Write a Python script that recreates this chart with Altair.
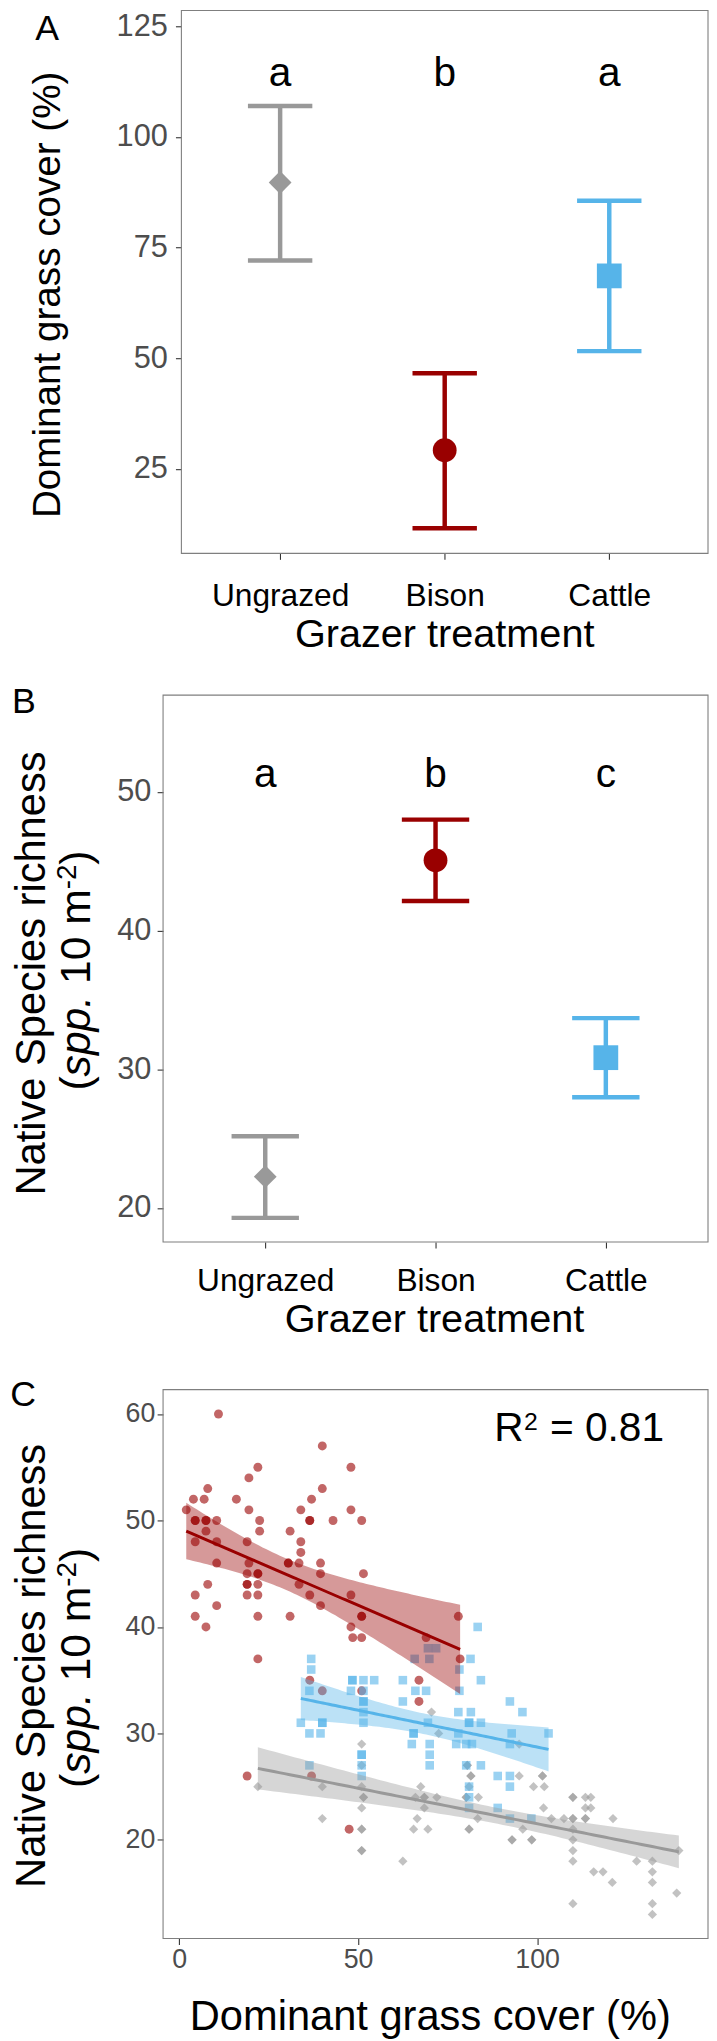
import altair as alt
import numpy as np
import pandas as pd

FONT = "Liberation Sans"

# ---------------- data ----------------
groups = ["Ungrazed", "Bison", "Cattle"]
group_colors = ["#999999", "#990000", "#56B4E9"]
group_shapes = ["diamond", "circle", "square"]

cover_mean = [89.7, 29.2, 68.6]
cover_lo = [72.1, 11.6, 51.6]
cover_hi = [107.0, 46.6, 85.6]
cover_letters = ["a", "b", "a"]

rich_mean = [22.26, 45.07, 30.84]
rich_lo = [19.29, 42.14, 27.98]
rich_hi = [25.17, 48.0, 33.69]
rich_letters = ["a", "b", "c"]

bison_x = [11, 40, 22, 48, 19.5, 8, 40, 4, 7, 16, 37, 2, 19.5, 34, 48,
           4.5, 4.5, 7.5, 7.5, 10.5, 22.5, 36.5, 36.5, 43, 51,
           7.5, 22.5, 31,
           4.5, 10.5, 19, 34,
           34,
           10.5, 19.5, 30.5, 30.5, 33.5, 39.5,
           19, 22, 22, 39.5, 51.5,
           8, 19, 19, 22, 33.5,
           4.5, 19, 22, 36.5, 48,
           10.5, 39.5,
           4.5, 22, 31, 51, 51, 78,
           7.5, 48,
           48.5, 51, 69,
           22, 78.5,
           36.5, 67, 40, 51, 67,
           19, 37, 47.5]
bison_y = [60, 57, 55, 55, 54, 53, 53, 52, 52, 52, 52, 51, 51, 51, 51,
           50, 50, 50, 50, 50, 50, 50, 50, 50, 50,
           49, 49, 49,
           48, 48, 48, 48,
           47,
           46, 46, 46, 46, 46, 46,
           45, 45, 45, 45, 45,
           44, 44, 44, 44, 44,
           43, 43, 43, 43, 43,
           42, 42,
           41, 41, 41, 41, 41, 41,
           40, 40,
           39, 39, 39,
           37, 37,
           35, 35, 34, 34, 33,
           26, 26, 21]

cattle_x = [36.9, 36.9, 36.4, 34, 40, 40, 36.4, 39.5, 36.4,
            48.4, 48.4, 51.5, 54.5, 48, 51.5, 51.5, 51.5, 51.5, 51.5,
            51, 51, 51, 51,
            62.5, 66, 69, 62.5, 65.5, 65.5, 65, 70, 70, 70, 69.5,
            65.8, 69.9, 69.5, 71.8,
            78.3, 84.3, 78.3, 92.4, 95.9, 78, 81.5, 81, 81, 84.3,
            78, 92.9, 103.2, 77.4, 80.2, 81.8, 92.4,
            84.3, 80.2, 89, 92.4, 92.4, 81, 81, 89, 81, 92.4, 98.4,
            83.4, 81.4]
cattle_y = [37, 36, 34, 31, 31, 31, 30, 30, 27,
            35, 35, 35, 35, 34, 34, 33, 33, 32, 31,
            28, 28, 27, 26,
            35, 34, 34, 33, 30, 30, 29, 29, 28, 27, 31,
            37, 37, 38, 38,
            36, 35, 34, 33, 32, 32, 32, 31, 31, 31,
            30, 30, 30, 29, 29, 29, 29,
            27, 27, 26, 26, 25, 25, 24, 23, 23, 22, 22,
            40, 37]

ungrazed_x = [22, 40, 40,
              51, 51, 51, 51.5, 51.5, 51, 51, 51, 51, 51,
              62.5, 70.5, 72.5,
              67.5, 66, 68.5, 68.5, 68.5, 66.5, 65.5, 69.5, 72,
              95, 80.5, 80.5, 81.5, 81.5, 81, 95, 101.5, 101.5, 99, 102,
              80.2, 80.2, 83.6, 110, 110, 113.5, 115,
              101.8, 113.5, 115,
              83.4, 104, 107.5, 110, 110, 113.5, 113.5, 121.2,
              81, 81, 96, 110,
              93, 93, 98.5, 98.5, 110,
              110, 139.6,
              110, 127.8, 132.2,
              115.8, 118.4, 132.2,
              121, 132.2,
              139,
              110, 132.2,
              132.2]
ungrazed_y = [25, 25, 22,
              29, 27, 25, 24, 24, 23, 21, 21, 19, 19,
              18, 32, 30,
              25, 24, 24, 24, 23, 22, 21, 21, 24,
              29, 27, 27, 26, 26, 25, 26, 26, 26, 25, 25,
              24, 24, 24, 24, 24, 24, 24,
              23, 23, 23,
              22, 22, 22, 22, 22, 22, 22, 22,
              21, 21, 21, 21,
              20, 20, 20, 20, 20,
              19, 19,
              18, 18, 18,
              17, 17, 17,
              16, 16,
              15,
              14, 14,
              13]

r2_parts = ["R", "2", "= 0.81"]

# ---------------- layout constants (px) ----------------
W = 550
HA, HB, HC = 548, 552, 554
EDGE = -180

one = pd.DataFrame({"k": [0]})

AX = dict(tickSize=6, tickColor="#333333", tickWidth=1.1, domain=False, grid=False, title=None)


def txt(text, x, y, size, angle=0, align="center", style="normal", dx=0, dy=0):
    return alt.Chart(one).mark_text(
        text=text, font=FONT, fontSize=size, angle=angle, align=align,
        baseline="alphabetic", fontStyle=style, color="black", dx=dx, dy=dy
    ).encode(x=alt.value(x), y=alt.value(y))


def frame(x0, h):
    return alt.Chart(one).mark_rect(fillOpacity=0, stroke="#7F7F7F", strokeWidth=1.1).encode(
        x=alt.value(x0), x2=alt.value(W), y=alt.value(0), y2=alt.value(h))


def anchor(top):
    # invisible 1px box fixing the panel's left/top extent for the layout
    return alt.Chart(one).mark_rect(opacity=0).encode(
        x=alt.value(EDGE), x2=alt.value(EDGE + 1), y=alt.value(-top), y2=alt.value(-top + 1))


color_enc = alt.Color("g:N", scale=alt.Scale(domain=groups, range=group_colors), legend=None)
shape_enc = alt.Shape("g:N", scale=alt.Scale(domain=groups, range=group_shapes), legend=None)


def richness_title(cy1, cy2):
    layers = [txt("Native Species richness", -119, cy1, 42, angle=270)]
    f, fs = 43, 28
    cw = {"(": .333, ")": .333, "s": .5, "p": .556, ".": .278, " ": .278,
          "1": .556, "0": .556, "m": .833, "-": .333, "2": .556}
    pieces = [("(", "normal", f, 0, 0), ("spp.", "italic", f, 0, 0), ("10 m", "normal", f, 0, .278),
              ("-2", "normal", fs, -14, 0), (")", "normal", f, 0, 0)]
    widths = [(sum(cw[c] for c in p) * size + gap * f) for p, _, size, _, gap in pieces]
    total = sum(widths)
    y0 = cy2 + total / 2
    cum = 0.0
    for (p, style, size, dy, gap), w in zip(pieces, widths):
        layers.append(txt(p, -74, y0, size, angle=270, align="left", style=style,
                          dx=cum + gap * f, dy=dy))
        cum += w
    return layers


def summary_panel(means, los, his, letters, x0, H, ydomain, yvalues, ypad, yoff,
                  cap, sig_y, xpad):
    df = pd.DataFrame({"g": groups, "m": means, "lo": los, "hi": his, "sig": letters})
    xenc = alt.X("g:N", scale=alt.Scale(type="point", domain=groups, range=[x0, W], padding=0.6),
                 axis=alt.Axis(labelAngle=0, labelFontSize=32, labelColor="black",
                               labelPadding=xpad, **AX))
    ysc = alt.Scale(domain=ydomain, nice=False, zero=False)
    yax = alt.Axis(values=yvalues, labelFontSize=31, labelColor="#4D4D4D",
                   labelPadding=ypad, offset=yoff, **AX)
    base = alt.Chart(df)
    stem = base.mark_rule(strokeWidth=4.5).encode(
        x=xenc, y=alt.Y("lo:Q", scale=ysc, axis=yax), y2="hi:Q", color=color_enc)
    cap_hi = base.mark_tick(orient="horizontal", size=cap, thickness=4.5, opacity=1).encode(
        x=xenc, y=alt.Y("hi:Q", scale=ysc, axis=yax), color=color_enc)
    cap_lo = base.mark_tick(orient="horizontal", size=cap, thickness=4.5, opacity=1).encode(
        x=xenc, y=alt.Y("lo:Q", scale=ysc, axis=yax), color=color_enc)
    pts = base.mark_point(filled=True, opacity=1).encode(
        x=xenc, y=alt.Y("m:Q", scale=ysc, axis=yax), color=color_enc, shape=shape_enc,
        size=alt.Size("g:N", scale=alt.Scale(domain=groups, range=[529, 625, 576]), legend=None))
    sig = base.mark_text(font=FONT, fontSize=41, baseline="alphabetic", color="black").encode(
        x=xenc, y=alt.value(sig_y), text="sig:N")
    return [frame(x0, H), stem, cap_hi, cap_lo, pts, sig]


panelA = alt.layer(
    *summary_panel(cover_mean, cover_lo, cover_hi, cover_letters, 18.5, HA,
                   [5.9, 128.58], [25, 50, 75, 100, 125], 8.2, -18.5, 65, 76, 22),
    txt("A", -117, 30, 36),
    txt("Dominant grass cover (%)", -104.5, 287, 39, angle=270),
    txt("Grazer treatment", 284.25, HA + 94, 40),
    anchor(1),
).properties(width=W, height=HA)

panelB = alt.layer(
    *summary_panel(rich_mean, rich_lo, rich_hi, rich_letters, 0, HB,
                   [17.55, 56.98], [20, 30, 40, 50], 6.3, 0, 68, 92.7, 18),
    txt("B", -140.5, 18, 36),
    *richness_title(281, 278),
    txt("Grazer treatment", 274, HB + 91, 40),
    anchor(41),
).properties(width=W, height=HB)

dfC = pd.DataFrame({
    "x": ungrazed_x + bison_x + cattle_x,
    "y": ungrazed_y + bison_y + cattle_y,
    "g": ["Ungrazed"] * len(ungrazed_x) + ["Bison"] * len(bison_x) + ["Cattle"] * len(cattle_x),
})


def ols_band(xs, ys, n_grid=80, t=1.99):
    xs = np.asarray(xs, float)
    ys = np.asarray(ys, float)
    n = len(xs)
    slope, intercept = np.polyfit(xs, ys, 1)
    grid = np.linspace(xs.min(), xs.max(), n_grid)
    fit = intercept + slope * grid
    resid = ys - (intercept + slope * xs)
    s = np.sqrt(np.sum(resid ** 2) / (n - 2))
    sxx = np.sum((xs - xs.mean()) ** 2)
    se = s * np.sqrt(1.0 / n + (grid - xs.mean()) ** 2 / sxx)
    return grid, fit, fit - t * se, fit + t * se


fits = []
for name, xs, ys in [("Ungrazed", ungrazed_x, ungrazed_y), ("Bison", bison_x, bison_y),
                     ("Cattle", cattle_x, cattle_y)]:
    gx, gf, glo, ghi = ols_band(xs, ys)
    fits.append(pd.DataFrame({"x": gx, "fit": gf, "lo": glo, "hi": ghi, "g": name}))
dfFit = pd.concat(fits, ignore_index=True)

xC = alt.X("x:Q", scale=alt.Scale(domain=[-4.48, 147.74], nice=False, zero=False),
           axis=alt.Axis(values=[0, 50, 100], labelFontSize=27, labelColor="#4D4D4D",
                         labelPadding=2, **AX))
yscC = alt.Scale(domain=[10.73, 62.29], nice=False, zero=False)
yaxC = alt.Axis(values=[20, 30, 40, 50, 60], labelFontSize=27, labelColor="#4D4D4D",
                labelPadding=2.3, **AX)

ptsC = alt.Chart(dfC).mark_point(filled=True, opacity=0.6).encode(
    x=xC, y=alt.Y("y:Q", scale=yscC, axis=yaxC), color=color_enc, shape=shape_enc,
    size=alt.Size("g:N", scale=alt.Scale(domain=groups, range=[87, 75, 53]), legend=None))
bandC = alt.Chart(dfFit).mark_area(opacity=0.4).encode(
    x=xC, y=alt.Y("lo:Q", scale=yscC, axis=yaxC), y2="hi:Q", color=color_enc)
lineC = alt.Chart(dfFit).mark_line(strokeWidth=3).encode(
    x=xC, y=alt.Y("fit:Q", scale=yscC, axis=yaxC), color=color_enc)

panelC = alt.layer(
    frame(0, HC), ptsC, bandC, lineC,
    txt(r2_parts[0], 334.2, 52.3, 41, align="left"),
    txt(r2_parts[1], 364.2, 40.3, 25, align="left"),
    txt(r2_parts[2], 390.5, 52.3, 41, align="left"),
    txt("C", -141.2, 16.3, 36),
    *richness_title(278.8, 280.8),
    txt("Dominant grass cover (%)", 269.7, HC + 92, 42),
    anchor(49.7),
).properties(width=W, height=HC)

chart = alt.concat(
    panelA, panelB, panelC, columns=1, spacing=0, align="each"
).resolve_scale(
    size="independent"
).properties(
    padding={"left": -23.5, "top": -8, "right": 0, "bottom": 0},
    background="white",
).configure_view(strokeOpacity=0).configure_axis(labelFont=FONT)

chart.save("out.html", embed_options={"renderer": "svg", "actions": False})
